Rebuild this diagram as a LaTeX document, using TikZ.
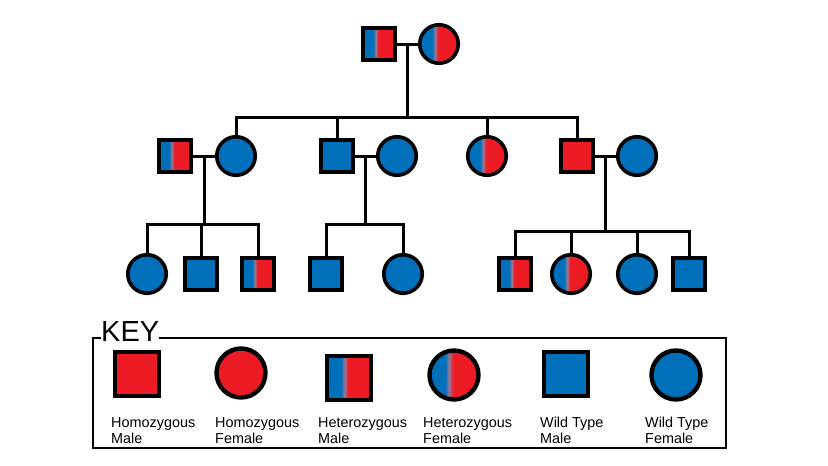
\documentclass[tikz,border=0pt]{standalone}
\usepackage{fontspec}
\setmainfont{Liberation Sans}
\usetikzlibrary{calc}

\definecolor{homred}{RGB}{237,28,36}
\definecolor{wildblue}{RGB}{0,112,186}
\definecolor{hetmid}{RGB}{150,120,150}
\pgfdeclarehorizontalshading{hetshade}{100bp}{color(0bp)=(wildblue); color(41bp)=(wildblue); color(45bp)=(hetmid); color(49bp)=(homred); color(100bp)=(homred)}

\begin{document}
\begin{tikzpicture}[
    x=1pt, y=-1pt,
    person/.style={draw=black, line width=3.6pt, inner sep=0pt},
    male/.style={person, rectangle, minimum size=32.5pt},
    female/.style={person, circle, minimum size=38.5pt},
    keymale/.style={person, line width=4.4pt, rectangle, minimum size=44pt},
    keyfemale/.style={person, line width=4.4pt, circle, minimum size=49pt},
    hom/.style={fill=homred},
    wild/.style={fill=wildblue},
    het/.style={shading=hetshade},
    link/.style={line width=3pt},
    keylabel/.style={anchor=base west, align=left, inner sep=0pt, font=\fontsize{14.4}{16}\selectfont},
]
  \useasboundingbox (0,0) rectangle (828,466);

  % 第一代
  \node[male, het] (g1m) at (379,44) {};
  \node[female, het] (g1f) at (439,44) {};
  \draw[link] (g1m.east) -- (g1f.west);
  \coordinate (g1c) at ($(g1m.east)!0.5!(g1f.west)$);

  % 第二代
  \node[male, het] (a1m) at (175,156) {};
  \node[female, wild] (a1f) at (236,156) {};
  \node[male, wild] (b1m) at (337,156) {};
  \node[female, wild] (b1f) at (397,156) {};
  \node[female, het] (c1f) at (487,156) {};
  \node[male, hom] (d1m) at (577,156) {};
  \node[female, wild] (d1f) at (637,156) {};

  \draw[link] (g1c) -- (g1c |- 0,117);
  \draw[link] (a1f.north) -- (a1f.north |- 0,117) -- (d1m.north |- 0,117) -- (d1m.north);
  \draw[link] (b1m.north) -- (b1m.north |- 0,117);
  \draw[link] (c1f.north) -- (c1f.north |- 0,117);

  \draw[link] (a1m.east) -- (a1f.west);
  \draw[link] (b1m.east) -- (b1f.west);
  \draw[link] (d1m.east) -- (d1f.west);
  \coordinate (ac) at ($(a1m.east)!0.5!(a1f.west)$);
  \coordinate (bc) at ($(b1m.east)!0.5!(b1f.west)$);
  \coordinate (dc) at ($(d1m.east)!0.5!(d1f.west)$);

  % 第三代
  \node[female, wild] (a2f) at (147,274) {};
  \node[male, wild] (a2m) at (201,274) {};
  \node[male, het] (a2h) at (258,274) {};
  \node[male, wild] (b2m) at (326,274) {};
  \node[female, wild] (b2f) at (403,274) {};
  \node[male, het] (d2h) at (515,274) {};
  \node[female, het] (d2c) at (571,274) {};
  \node[female, wild] (d2f) at (637,274) {};
  \node[male, wild] (d2m) at (689,274) {};

  \draw[link] (ac) -- (ac |- 0,224);
  \draw[link] (a2f.north) -- (a2f.north |- 0,224) -- (a2h.north |- 0,224) -- (a2h.north);
  \draw[link] (a2m.north) -- (a2m.north |- 0,224);

  \draw[link] (bc) -- (bc |- 0,224);
  \draw[link] (b2m.north) -- (b2m.north |- 0,224) -- (b2f.north |- 0,224) -- (b2f.north);

  \draw[link] (dc) -- (dc |- 0,231);
  \draw[link] (d2h.north) -- (d2h.north |- 0,231) -- (d2m.north |- 0,231) -- (d2m.north);
  \draw[link] (d2c.north) -- (d2c.north |- 0,231);
  \draw[link] (d2f.north) -- (d2f.north |- 0,231);

  % 图例
  \node[anchor=base west, inner sep=0pt, font=\fontsize{29}{29}\selectfont] (keytitle) at (101,341) {KEY};
  \draw[line width=1.4pt] (keytitle.west |- 0,338) -- (93,338) -- (93,448) -- (726,448) -- (726,338) -- (keytitle.east |- 0,338);

  \node[keymale, hom] (k1) at (137,374) {};
  \node[keyfemale, hom] (k2) at (241,373) {};
  \node[keymale, het] (k3) at (349,378) {};
  \node[keyfemale, het] (k4) at (454,375) {};
  \node[keymale, wild] (k5) at (566,374) {};
  \node[keyfemale, wild] (k6) at (676,375) {};

  \node[keylabel] (t1) at (111,443) {Homozygous\\Male};
  \node[keylabel] (t2) at (215,443) {Homozygous\\Female};
  \node[keylabel] (t3) at (318,443) {Heterozygous\\Male};
  \node[keylabel] (t4) at (423,443) {Heterozygous\\Female};
  \node[keylabel] (t5) at (540,443) {Wild Type\\Male};
  \node[keylabel] (t6) at (645,443) {Wild Type\\Female};

\end{tikzpicture}
\end{document}
